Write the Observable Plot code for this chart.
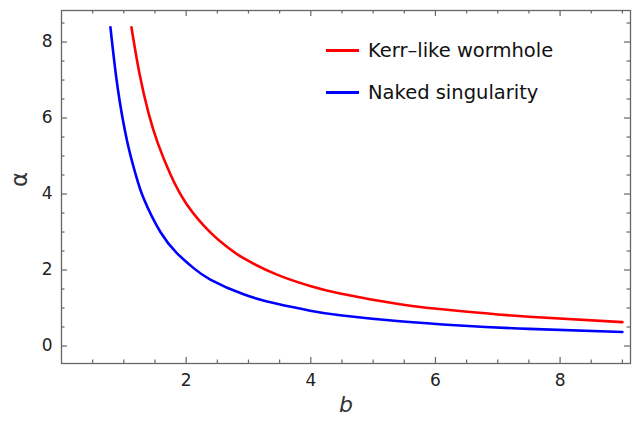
<!DOCTYPE html>
<html>
<head>
<meta charset="utf-8">
<script src="https://cdn.jsdelivr.net/npm/d3@7"></script>
<script src="https://cdn.jsdelivr.net/npm/@observablehq/plot@0.6"></script>
<style>
  html, body { margin: 0; padding: 0; background: white; }
  #wrap { position: relative; width: 635px; height: 423px; }
  #legend { position: absolute; left: 326px; top: 34px; font-family: "DejaVu Sans", sans-serif; font-size: 19.5px; color: #111; }
  .row { display: flex; align-items: center; height: 32px; margin-bottom: 10px; }
  .sw { width: 33px; height: 3px; margin-right: 9px; }
</style>
</head>
<body>
<div id="wrap">
  <div id="chart"></div>
  <div id="legend"></div>
</div>
<script>
// Data
const seriesNames = ["Kerr\u2013like wormhole", "Naked singularity"];
const seriesColors = ["#ff0000", "#0000ff"];

const redB = [1.122, 1.25, 1.4, 1.545, 1.747, 2.014, 2.388, 2.655, 2.921, 3.457, 3.99, 4.47, 5.43, 6.39, 7.5, 9.0];
const redA = [8.39, 7.18, 6.11, 5.34, 4.52, 3.72, 2.99, 2.61, 2.31, 1.88, 1.58, 1.38, 1.10, 0.92, 0.77, 0.63];

const blueB = [0.785, 0.9, 1.053, 1.186, 1.319, 1.587, 1.854, 2.12, 2.388, 2.921, 3.457, 3.99, 4.47, 5.43, 6.39, 7.5, 9.0];
const blueA = [8.39, 6.81, 5.39, 4.54, 3.88, 3.0, 2.44, 2.05, 1.75, 1.36, 1.11, 0.93, 0.81, 0.65, 0.54, 0.45, 0.37];

const xMajor = [2, 4, 6, 8];
const yMajor = [0, 2, 4, 6, 8];
const xMinor = d3.range(0.5, 9.01, 0.5).filter(v => !xMajor.includes(v));
const yMinor = d3.range(0, 8.51, 0.5).filter(v => !yMajor.includes(v));

const red = redB.map((b, i) => ({b, a: redA[i]}));
const blue = blueB.map((b, i) => ({b, a: blueA[i]}));

const W = 635, H = 423, mL = 61, mR = 5, mT = 10, mB = 60;
const plotH = H - mT - mB, plotW = W - mL - mR;
const tickCol = "#666";

const chart = Plot.plot({
  width: W, height: H,
  marginLeft: mL, marginRight: mR, marginTop: mT, marginBottom: mB,
  style: { fontFamily: "DejaVu Sans, sans-serif", fontSize: "16px", background: "white", color: "#222" },
  x: { domain: [0, 9.13] },
  y: { domain: [-0.46, 8.83] },
  marks: [
    Plot.tickX(xMajor, { x: d => d, insetTop: plotH - 6, stroke: tickCol, strokeWidth: 1.2 }),
    Plot.tickX(xMinor, { x: d => d, insetTop: plotH - 3.5, stroke: tickCol, strokeWidth: 1.2 }),
    Plot.tickX(xMajor, { x: d => d, insetBottom: plotH - 6, stroke: tickCol, strokeWidth: 1.2 }),
    Plot.tickX(xMinor, { x: d => d, insetBottom: plotH - 3.5, stroke: tickCol, strokeWidth: 1.2 }),
    Plot.tickY(yMajor, { y: d => d, insetRight: plotW - 6, stroke: tickCol, strokeWidth: 1.2 }),
    Plot.tickY(yMinor, { y: d => d, insetRight: plotW - 3.5, stroke: tickCol, strokeWidth: 1.2 }),
    Plot.tickY(yMajor, { y: d => d, insetLeft: plotW - 6, stroke: tickCol, strokeWidth: 1.2 }),
    Plot.tickY(yMinor, { y: d => d, insetLeft: plotW - 3.5, stroke: tickCol, strokeWidth: 1.2 }),
    Plot.axisX({ ticks: xMajor, tickSize: 0, tickPadding: 10, label: null, fontSize: 17 }),
    Plot.axisY({ ticks: yMajor, tickSize: 0, tickPadding: 9, label: null, fontSize: 17 }),
    Plot.frame({ stroke: tickCol, strokeWidth: 1.3 }),
    Plot.line(red, { x: "b", y: "a", stroke: seriesColors[0], strokeWidth: 2.6, curve: "natural" }),
    Plot.line(blue, { x: "b", y: "a", stroke: seriesColors[1], strokeWidth: 2.6, curve: "natural" }),
    Plot.text(["b"], { frameAnchor: "bottom", dy: 48, fontSize: 22, fontStyle: "italic", fill: "#333" }),
    Plot.text(["\u03b1"], { frameAnchor: "left", dx: -42, rotate: -90, fontSize: 23, fill: "#333" })
  ]
});
document.getElementById("chart").appendChild(chart);

const legend = document.getElementById("legend");
seriesNames.forEach((name, i) => {
  const row = document.createElement("div");
  row.className = "row";
  const sw = document.createElement("div");
  sw.className = "sw";
  sw.style.background = seriesColors[i];
  const t = document.createElement("span");
  t.textContent = name;
  row.appendChild(sw);
  row.appendChild(t);
  legend.appendChild(row);
});
</script>
</body>
</html>
